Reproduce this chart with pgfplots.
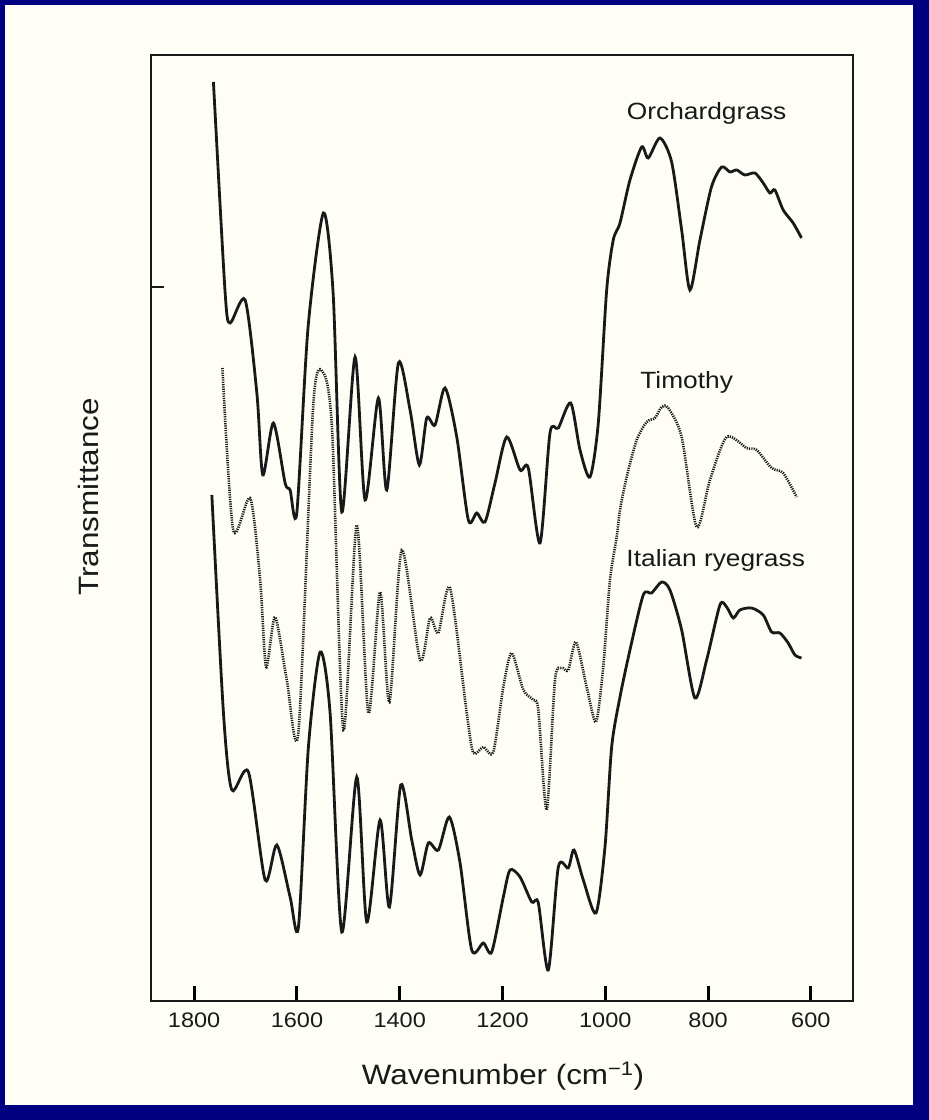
\documentclass[border=0pt]{standalone}
\usepackage{pgfplots}
\pgfplotsset{compat=1.18}
\usepackage{fontspec}
\setmainfont[FakeStretch=1.12]{Liberation Sans}
\definecolor{framecol}{RGB}{0,0,128}
\definecolor{bgcol}{RGB}{254,253,246}
\definecolor{ink}{RGB}{25,25,25}

\begin{document}
\begin{tikzpicture}
\fill[framecol] (0pt,0pt) rectangle (929pt,1120pt);
\fill[bgcol] (5pt,15pt) rectangle (913pt,1115pt);
\begin{axis}[
  at={(151pt,119pt)}, anchor=south west,
  scale only axis, width=702pt, height=946pt,
  x dir=reverse, xmin=518, xmax=1884, ymin=0, ymax=946,
  axis line style={line width=2.2pt, draw=ink},
  xtick={600,800,...,1800},
  ytick={714}, yticklabels={},
  tick pos=left,
  tick align=inside,
  major tick length=13pt,
  xtick style={line width=3pt, draw=black, line cap=rect},
  ytick style={line width=2pt, draw=ink},
  /pgf/number format/assume math mode=true,
  /pgf/number format/set thousands separator={},
  xticklabel style={font=\fontsize{21}{24}\selectfont, text=ink, anchor=center, yshift=-19pt},
  clip=false,
]
% Orchardgrass
\addplot[ink, line width=2.8pt, smooth, tension=0.45] coordinates {
(1762.5,919) (1739.7,708) (1730,678) (1700.8,701) (1678,608) (1666.4,526)
(1645.8,578) (1623,518) (1613.3,511) (1600.3,488) (1578.3,674) (1548.5,788)
(1529.6,708) (1512.7,489) (1486.9,644) (1467.4,501) (1441.5,603) (1425.2,511)
(1402.6,638) (1379.9,591) (1361.8,536) (1347.4,583) (1331.3,576) (1311.8,613)
(1289,564) (1266.5,481) (1250.1,488) (1234,479) (1214.6,518) (1191.8,564)
(1165.9,531) (1149.8,533) (1127,458) (1107.6,568) (1091.4,573) (1067.3,598)
(1049.2,551) (1029.8,524) (1013.6,578) (997.3,711) (984.5,761) (971.4,778)
(952,821) (929.2,854) (916.4,843) (893.6,863) (870.9,839) (851.4,771)
(835.3,711) (815.8,761) (793.4,814) (773.6,834) (757.5,829) (744.4,831)
(728.3,826) (708.9,828) (692.7,818) (679.7,808) (670,811) (653.8,791)
(634.4,778) (618.2,763)
};
% Timothy
\addplot[ink, line width=2.6pt, dash pattern=on 1.2pt off 1.1pt, smooth, tension=0.45] coordinates {
(1745,633) (1724.1,471) (1691,503) (1671.6,421) (1660,334) (1642.5,384)
(1619.7,321) (1597.1,269) (1568,598) (1548.5,628) (1531.6,571) (1509.6,271)
(1483.6,476) (1461,288) (1438.2,409) (1420.1,299) (1396,451) (1360.4,341)
(1341,383) (1324.8,368) (1302.1,413) (1269.6,288) (1256.8,248) (1237.3,254)
(1217.9,249) (1198.4,314) (1182.1,348) (1159.5,311) (1140,301) (1130.3,291)
(1114,191) (1097.9,321) (1084.8,333) (1072,331) (1057,359) (1036.2,314)
(1018.1,279) (1004,334) (990.9,421) (977.8,464) (971.4,491) (958.4,524)
(938.9,561) (919.5,579) (903.4,583) (890.3,594) (877.5,593) (851.4,564)
(822.3,474) (796.4,521) (763.9,564) (725,553) (705.5,551) (676.4,533)
(653.8,528) (627.7,504)
};
% Italian ryegrass
\addplot[ink, line width=2.8pt, smooth, tension=0.45] coordinates {
(1765.6,506) (1743,288) (1726.7,211) (1694.4,229) (1661.9,121) (1639.1,156)
(1613.3,104) (1597.1,74) (1577.7,254) (1554.9,349) (1535.5,288) (1512.7,69)
(1483.6,224) (1464.1,79) (1438.2,181) (1420.1,94) (1398,216) (1376.6,161)
(1360.4,126) (1344.3,158) (1324.8,151) (1303.4,184) (1282.6,138) (1259.9,51)
(1237.3,58) (1221,49) (1198.4,104) (1185.4,131) (1165.9,124) (1143.2,99)
(1130.3,98) (1110.9,31) (1091.4,134) (1072,133) (1060.9,151) (1042.8,121)
(1018.1,88) (1000.6,154) (987.6,254) (971.4,304) (952,351) (926.1,406)
(909.8,408) (890.3,419) (874.2,411) (851.4,371) (825.6,303) (802.8,341)
(776.9,396) (763.9,394) (751,383) (738,391) (715.3,393) (692.7,386)
(676.4,369) (660.2,368) (644.1,358) (631,346) (618.2,343)
};
\node[font=\fontsize{23.5}{27}\selectfont, text=ink] at (axis cs:802.8,888) {Orchardgrass};
\node[font=\fontsize{23.5}{27}\selectfont, text=ink] at (axis cs:841.7,619) {Timothy};
\node[font=\fontsize{23.5}{27}\selectfont, text=ink] at (axis cs:785.1,441) {Italian ryegrass};
\end{axis}
\node[font=\fontsize{28}{32}\selectfont, text=ink] at (503pt,44pt) {Wavenumber (cm\textsuperscript{−1})};
\node[font=\fontsize{28}{32}\selectfont, text=ink, rotate=90] at (88pt,623pt) {Transmittance};
\end{tikzpicture}
\end{document}
